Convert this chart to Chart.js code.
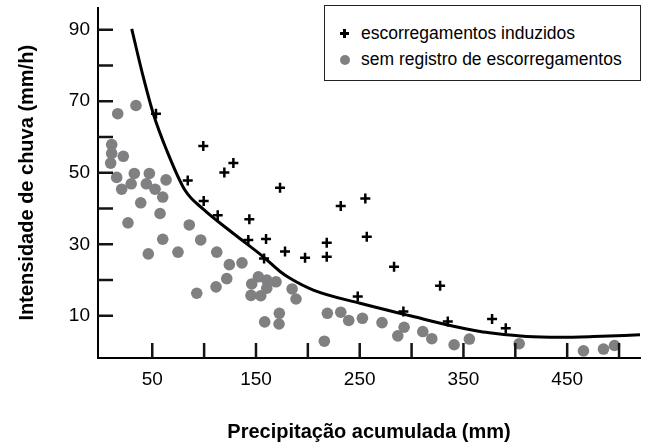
<!DOCTYPE html>
<html>
<head>
<meta charset="utf-8">
<script src="https://cdn.jsdelivr.net/npm/chart.js@4/dist/chart.umd.min.js"></script>
<style>
  html, body { margin: 0; padding: 0; background: #fff; }
  #wrap { position: relative; width: 667px; height: 446px; }
  #legend { position: absolute; left: 324px; top: 5px; width: 317px; height: 76px; border: 1px solid #222; box-sizing: border-box;
            font-family: "Liberation Sans", Arial, sans-serif; font-size: 17.5px; color: #000; background: #fff; }
  .row { position: absolute; left: 36px; line-height: 20px; white-space: nowrap; }
  .plus { position: absolute; width: 9px; height: 9px; }
  .plus::before, .plus::after { content: ""; position: absolute; background: #000; }
  .plus::before { left: 0; top: 3.25px; width: 9px; height: 2.5px; }
  .plus::after { left: 3.25px; top: 0; width: 2.5px; height: 9px; }
  .dot { position: absolute; width: 10px; height: 10px; border-radius: 50%; background: #808082; }
</style>
</head>
<body>
<div id="wrap">
  <canvas id="c" width="667" height="446"></canvas>
  <div id="legend">
    <div class="plus" style="left:15px; top:23px;"></div>
    <div class="row" style="top:17px;">escorregamentos induzidos</div>
    <div class="dot" style="left:15px; top:49px;"></div>
    <div class="row" style="top:43px;">sem registro de escorregamentos</div>
  </div>
</div>
<script>
// ---- data ----
const induzidosX = [53.6, 99.2, 128.2, 119.5, 84.2, 173.2, 99.6, 113.1, 143.6, 142.6, 159.7, 178.0, 157.8, 197.3, 218.2, 218.2, 231.7, 255.4, 256.8, 283.1, 327.5, 248.1, 292.1, 334.9, 377.6, 390.8];
const induzidosY = [66.5, 57.5, 52.7, 50.1, 47.8, 45.8, 42.1, 38.1, 37.0, 31.2, 31.5, 28.0, 26.0, 26.2, 30.4, 26.5, 40.7, 42.8, 32.1, 23.7, 18.4, 15.4, 11.2, 8.4, 9.1, 6.5];

const semRegistroX = [34.3, 16.7, 10.9, 10.9, 22.1, 9.9, 15.7, 32.7, 47.2, 63.3, 29.7, 44.3, 20.5, 52.7, 60.1, 38.9, 57.5, 26.6, 85.7, 60.1, 96.7, 46.2, 74.8, 112.2, 124.3, 136.5, 121.8, 111.5, 92.9, 152.3, 160.4, 169.3, 145.9, 160.4, 145.2, 154.6, 184.8, 188.6, 172.5, 158.4, 172.2, 218.8, 231.7, 239.4, 252.6, 215.9, 271.5, 292.8, 286.7, 310.8, 319.5, 341.0, 355.7, 403.7, 465.7, 485.0, 495.6];
const semRegistroY = [68.8, 66.5, 57.9, 55.4, 54.6, 52.7, 48.7, 49.8, 49.8, 48.0, 46.9, 46.9, 45.4, 45.4, 43.2, 41.6, 38.6, 36.0, 35.4, 31.4, 31.2, 27.3, 27.8, 27.8, 24.3, 24.8, 20.4, 18.1, 16.3, 20.9, 20.0, 19.5, 18.9, 17.7, 15.7, 15.6, 17.5, 14.7, 10.7, 8.3, 7.7, 10.7, 11.0, 8.7, 9.3, 2.9, 8.1, 6.8, 4.4, 5.6, 3.6, 1.9, 3.5, 2.2, 0.2, 0.7, 1.7];

const curvaX = [30.2, 41.4, 51.0, 63.9, 81.6, 99.2, 128.2, 157.1, 173.2, 182.8, 205.3, 250.3, 301.7, 333.9, 366.1, 378.9, 411.1, 443.2, 475.3, 520.2];
const curvaY = [90.2, 76.7, 66.5, 56.3, 45.1, 39.8, 33.0, 26.5, 22.4, 20.5, 17.2, 13.5, 9.8, 7.5, 5.6, 5.1, 4.2, 4.0, 4.2, 4.7];

const xTickValues = [50, 100, 150, 200, 250, 300, 350, 400, 450, 500];
const yTickValues = [10, 20, 30, 40, 50, 60, 70, 80, 90];
const xTickLabels = [50, 150, 250, 350, 450];
const yTickLabels = [10, 30, 50, 70, 90];

const FONT = '"Liberation Sans", Arial, sans-serif';
const toPts = (xs, ys) => xs.map((x, i) => ({ x: x, y: ys[i] }));

// inward tick marks, placed through the chart's own scales
const inwardTicks = {
  id: 'inwardTicks',
  afterDraw(chart) {
    const ctx = chart.ctx;
    const a = chart.chartArea;
    const xs = chart.scales.x, ys = chart.scales.y;
    ctx.save();
    ctx.strokeStyle = 'rgb(20,20,20)';
    ctx.lineWidth = 2.5;
    ctx.lineCap = 'butt';
    ctx.beginPath();
    xTickValues.forEach(v => { const px = xs.getPixelForValue(v); ctx.moveTo(px, a.bottom); ctx.lineTo(px, a.bottom - 15); });
    yTickValues.forEach(v => { const py = ys.getPixelForValue(v); ctx.moveTo(a.left, py); ctx.lineTo(a.left + 15, py); });
    ctx.stroke();
    ctx.restore();
  }
};
Chart.register(inwardTicks);

new Chart(document.getElementById('c'), {
  type: 'scatter',
  data: {
    datasets: [
      { label: 'curva', data: toPts(curvaX, curvaY), showLine: true, borderColor: '#000', borderWidth: 3,
        pointRadius: 0, cubicInterpolationMode: 'monotone', fill: false, order: 0 },
      { label: 'escorregamentos induzidos', data: toPts(induzidosX, induzidosY), pointStyle: 'cross',
        pointRadius: 5, borderColor: '#000', borderWidth: 2.5, order: 1 },
      { label: 'sem registro de escorregamentos', data: toPts(semRegistroX, semRegistroY), pointStyle: 'circle',
        pointRadius: 5.8, backgroundColor: '#808082', borderWidth: 0, order: 2 }
    ]
  },
  options: {
    responsive: false,
    devicePixelRatio: 1,
    animation: false,
    layout: { padding: { left: 0, right: 27, top: 7, bottom: 0 } },
    plugins: { legend: { display: false }, tooltip: { enabled: false } },
    scales: {
      x: {
        type: 'linear', min: -2.3, max: 520.2,
        border: { display: true, color: '#000', width: 2 },
        grid: { display: false, drawTicks: false },
        ticks: { stepSize: 50, padding: 10, autoSkip: false, maxRotation: 0, color: '#000',
                 font: { family: FONT, size: 19 },
                 callback: v => xTickLabels.includes(v) ? String(v) : '' },
        afterBuildTicks: s => { s.ticks = xTickValues.map(v => ({ value: v })); },
        afterFit: s => { s.height = 88; s.paddingLeft = 0; s.paddingRight = 0; },
        title: { display: true, text: 'Precipitação acumulada (mm)', color: '#000',
                 font: { family: FONT, size: 20, weight: 'bold' }, padding: { top: 0, bottom: 2 } }
      },
      y: {
        type: 'linear', min: -1.8, max: 96.2,
        border: { display: true, color: '#000', width: 2 },
        grid: { display: false, drawTicks: false },
        ticks: { stepSize: 10, padding: 8, autoSkip: false, color: '#000',
                 font: { family: FONT, size: 19 },
                 callback: v => yTickLabels.includes(v) ? String(v) : '' },
        afterBuildTicks: s => { s.ticks = yTickValues.map(v => ({ value: v })); },
        afterFit: s => { s.width = 98; s.paddingTop = 0; s.paddingBottom = 0; },
        title: { display: true, text: 'Intensidade de chuva (mm/h)', color: '#000',
                 font: { family: FONT, size: 20, weight: 'bold' }, padding: { top: 15, bottom: 0 } }
      }
    }
  }
});
</script>
</body>
</html>
